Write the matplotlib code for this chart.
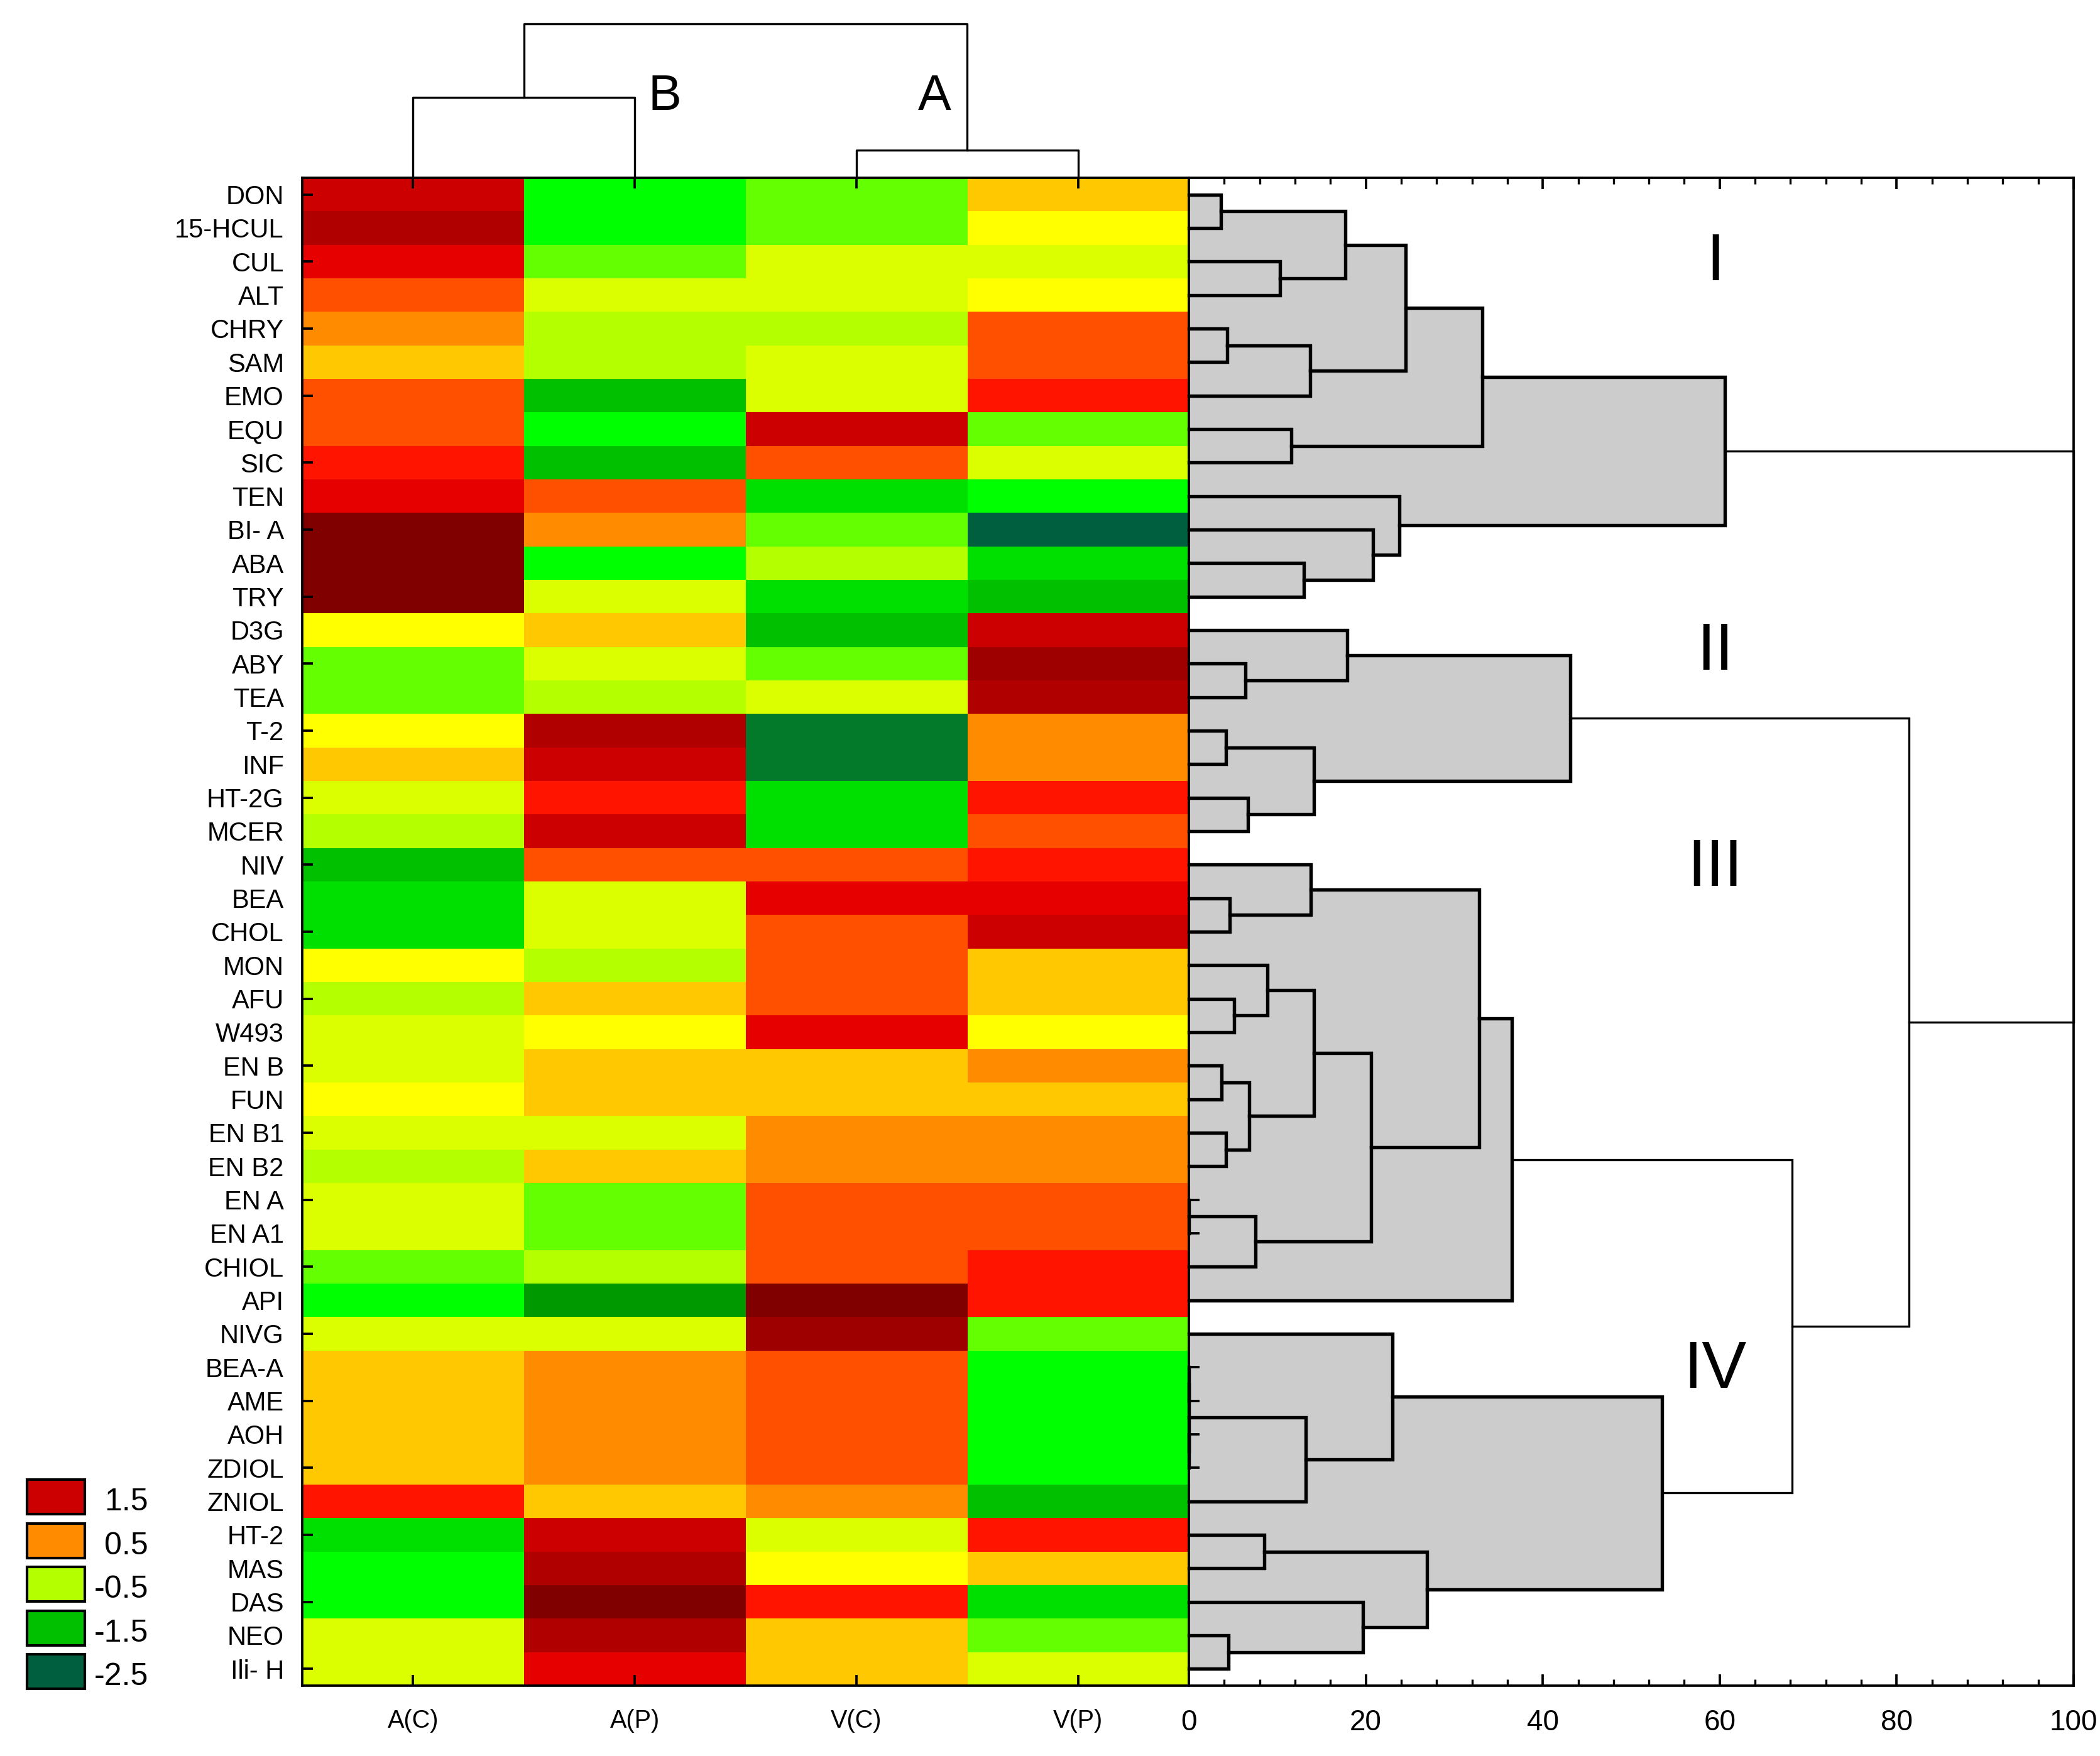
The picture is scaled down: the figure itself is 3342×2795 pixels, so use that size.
import numpy as np
import matplotlib
matplotlib.use("Agg")
import matplotlib.pyplot as plt
from matplotlib.colors import ListedColormap, BoundaryNorm
from matplotlib.patches import Rectangle
from matplotlib import font_manager

# ==========================================
# data
# ==========================================
compounds = ["DON", "15-HCUL", "CUL", "ALT", "CHRY", "SAM", "EMO", "EQU", "SIC", "TEN",
             "BI- A", "ABA", "TRY", "D3G", "ABY", "TEA", "T-2", "INF", "HT-2G", "MCER",
             "NIV", "BEA", "CHOL", "MON", "AFU", "W493", "EN B", "FUN", "EN B1", "EN B2",
             "EN A", "EN A1", "CHIOL", "API", "NIVG", "BEA-A", "AME", "AOH", "ZDIOL", "ZNIOL",
             "HT-2", "MAS", "DAS", "NEO", "Ili- H"]
samples = ["A(C)", "A(P)", "V(C)", "V(P)"]

a_c = [1.5, 1.75, 1.25, 0.75, 0.5, 0.25, 0.75, 0.75, 1.0, 1.25,
       2.25, 2.25, 2.25, 0.0, -0.75, -0.75, 0.0, 0.25, -0.25, -0.5,
       -1.5, -1.25, -1.25, 0.0, -0.5, -0.25, -0.25, 0.0, -0.25, -0.5,
       -0.25, -0.25, -0.75, -1.0, -0.25, 0.25, 0.25, 0.25, 0.25, 1.0,
       -1.25, -1.0, -1.0, -0.25, -0.25]
a_p = [-1.0, -1.0, -0.75, -0.25, -0.5, -0.5, -1.5, -1.0, -1.5, 0.75,
       0.5, -1.0, -0.25, 0.25, -0.25, -0.5, 1.75, 1.5, 1.0, 1.5,
       0.75, -0.25, -0.25, -0.5, 0.25, 0.0, 0.25, 0.25, -0.25, 0.25,
       -0.75, -0.75, -0.5, -1.75, -0.25, 0.5, 0.5, 0.5, 0.5, 0.25,
       1.5, 1.75, 2.25, 1.75, 1.25]
v_c = [-0.75, -0.75, -0.25, -0.25, -0.5, -0.25, -0.25, 1.5, 0.75, -1.25,
       -0.75, -0.5, -1.25, -1.5, -0.75, -0.25, -2.0, -2.0, -1.25, -1.25,
       0.75, 1.25, 0.75, 0.75, 0.75, 1.25, 0.25, 0.25, 0.5, 0.5,
       0.75, 0.75, 0.75, 2.25, 2.0, 0.75, 0.75, 0.75, 0.75, 0.5,
       -0.25, 0.0, 1.0, 0.25, 0.25]
v_p = [0.25, 0.0, -0.25, 0.0, 0.75, 0.75, 1.0, -0.75, -0.25, -1.0,
       -2.25, -1.25, -1.5, 1.5, 2.0, 1.75, 0.5, 0.5, 1.0, 0.75,
       1.0, 1.25, 1.5, 0.25, 0.25, 0.0, 0.5, 0.25, 0.5, 0.5,
       0.75, 0.75, 1.0, 1.0, -0.75, -1.0, -1.0, -1.0, -1.0, -1.5,
       1.0, 0.25, -1.25, -0.75, -0.25]

# row clustering (scipy-like linkage: left id, right id, distance); new ids start at 45
row_merges = [
    (0, 1, 3.6), (2, 3, 10.3), (45, 46, 17.7), (4, 5, 4.3), (48, 6, 13.7),
    (47, 49, 24.5), (7, 8, 11.6), (50, 51, 33.2), (11, 12, 13.0), (10, 53, 20.8),
    (9, 54, 23.8), (52, 55, 60.6),
    (14, 15, 6.4), (13, 57, 17.9), (16, 17, 4.2), (18, 19, 6.7), (59, 60, 14.1),
    (58, 61, 43.1),
    (21, 22, 4.6), (20, 63, 13.8), (24, 25, 5.1), (23, 65, 8.9), (26, 27, 3.7),
    (28, 29, 4.2), (67, 68, 6.8), (66, 69, 14.1), (30, 31, 0.0), (71, 32, 7.5),
    (70, 72, 20.6), (64, 73, 32.8), (74, 33, 36.5),
    (35, 36, 0.0), (37, 38, 0.0), (76, 77, 0.0), (78, 39, 13.2), (34, 79, 23.0),
    (40, 41, 8.5), (43, 44, 4.5), (42, 82, 19.7), (81, 83, 26.9), (80, 84, 53.5),
    (75, 85, 68.2), (62, 86, 81.4), (56, 87, 100.0),
]
# column clustering (relative distance)
col_merges = [(0, 1, 0.524), (2, 3, 0.178), (4, 5, 1.0)]

group_names = ["I", "II", "III", "IV"]
group_rows = [2.54, 14.17, 20.61, 35.59]

legend_values = [1.5, 0.5, -0.5, -1.5, -2.5]
level_colors = ["#005F3F", "#037A2A", "#009900", "#00C000", "#00E000", "#00FF00",
                "#64FF00", "#B4FF00", "#DCFF00", "#FFFF00", "#FFC800", "#FF8C00",
                "#FF5000", "#FF1400", "#E60000", "#CC0000", "#B00000", "#9E0000",
                "#800000"]

# ==========================================
# style
# ==========================================
names = {f.name for f in font_manager.fontManager.ttflist}
family = "Liberation Sans Narrow" if "Liberation Sans Narrow" in names else "Liberation Sans"
plt.rcParams["font.family"] = [family, "DejaVu Sans"]

W, H = 3342, 2795
fig = plt.figure(figsize=(W / 300, H / 300), dpi=300)


def fx(px):
    return px / W


def fy(py):
    return 1 - py / H


hm_left, hm_right, hm_top, hm_bot = 481, 1892, 283, 2683
dg_right = 3300

ax_hm = fig.add_axes([fx(hm_left), fy(hm_bot), fx(hm_right - hm_left), (hm_bot - hm_top) / H])
ax_row = fig.add_axes([fx(hm_right), fy(hm_bot), fx(dg_right - hm_right), (hm_bot - hm_top) / H])
ax_col = fig.add_axes([fx(hm_left), fy(hm_top), fx(hm_right - hm_left), (hm_top - 38) / H])

# ==========================================
# heat map
# ==========================================
data = np.column_stack([a_c, a_p, v_c, v_p])
bounds = np.arange(-2.375, 2.376 + 0.25, 0.25)[:len(level_colors) + 1]
cmap = ListedColormap(level_colors)
norm = BoundaryNorm(bounds, cmap.N, clip=True)
n_rows, n_cols = data.shape
ax_hm.imshow(data, cmap=cmap, norm=norm, aspect="auto", interpolation="nearest",
             extent=(0, n_cols, n_rows, 0))
ax_hm.set_xlim(0, n_cols)
ax_hm.set_ylim(n_rows, 0)

ax_hm.set_xticks(np.arange(n_cols) + 0.5, labels=samples)
ax_hm.set_yticks(np.arange(0, n_rows, 2) + 0.5, labels=compounds[0::2])
ax_hm.set_yticks(np.arange(1, n_rows, 2) + 0.5, labels=compounds[1::2], minor=True)
ax_hm.tick_params(axis="y", which="major", direction="in", length=4, width=0.9,
                  labelsize=10, pad=7)
ax_hm.tick_params(axis="y", which="minor", length=0, labelsize=10, pad=7)
ax_hm.tick_params(axis="x", direction="in", length=4, width=0.9, top=True,
                  labelsize=9.5, pad=9)
for sp in ax_hm.spines.values():
    sp.set_linewidth(0.9)


# ==========================================
# dendrograms
# ==========================================
def build_links(merges, n):
    pos = list(np.arange(n) + 0.5)
    hgt = [0.0] * n
    links = []
    for a, b, h in merges:
        links.append((hgt[a], pos[a], hgt[b], pos[b], h))
        pos.append((pos[a] + pos[b]) / 2)
        hgt.append(h)
    return links


row_links = build_links(row_merges, n_rows)
for ha, ya, hb, yb, h in row_links:
    if h < 65:
        ax_row.add_patch(Rectangle((0, min(ya, yb)), h, abs(yb - ya),
                                   facecolor="#cccccc", edgecolor="none", zorder=1))
for ha, ya, hb, yb, h in row_links:
    lw = 1.3 if h < 65 else 0.8
    ax_row.plot([ha, h, h, hb], [ya, ya, yb, yb], color="black", lw=lw,
                solid_joinstyle="miter", zorder=2, clip_on=False)

ax_row.set_xlim(0, 100)
ax_row.set_ylim(n_rows, 0)
ax_row.set_xticks(np.arange(0, 101, 20))
ax_row.set_xticks(np.arange(0, 101, 4), minor=True)
ax_row.set_yticks(np.arange(n_rows) + 0.5, labels=[])
ax_row.tick_params(axis="x", which="major", direction="in", length=4.3, width=0.9,
                   top=True, labelsize=11, pad=9)
ax_row.tick_params(axis="x", which="minor", direction="in", length=2.4, width=0.8, top=True)
ax_row.tick_params(axis="y", direction="in", length=4, width=0.9)
for sp in ax_row.spines.values():
    sp.set_linewidth(0.9)

for name, yr in zip(group_names, group_rows):
    ax_row.text(59.5, yr, name, ha="center", va="center", fontsize=25.5)

col_links = build_links(col_merges, n_cols)
for ha, xa, hb, xb, h in col_links:
    ax_col.plot([xa, xa, xb, xb], [ha, h, h, hb], color="black", lw=0.8, clip_on=False)
ax_col.set_xlim(0, n_cols)
ax_col.set_ylim(0, 1)
ax_col.axis("off")
ax_col.text(1.636, 0.524, "B", ha="center", va="center", fontsize=19)
ax_col.text(2.852, 0.524, "A", ha="center", va="center", fontsize=19)

# ==========================================
# legend
# ==========================================
sw_top = 2355
for i, v in enumerate(legend_values):
    top = sw_top + i * 69.6
    fig.patches.append(Rectangle((fx(43), fy(top + 55)), fx(92), 55 / H,
                                 transform=fig.transFigure, facecolor=cmap(norm(v)),
                                 edgecolor="black", lw=1.0))
    fig.text(fx(236), fy(top + 36), f"{v:g}", ha="right", va="center", fontsize=12)

fig.savefig("out.png", dpi=300)
